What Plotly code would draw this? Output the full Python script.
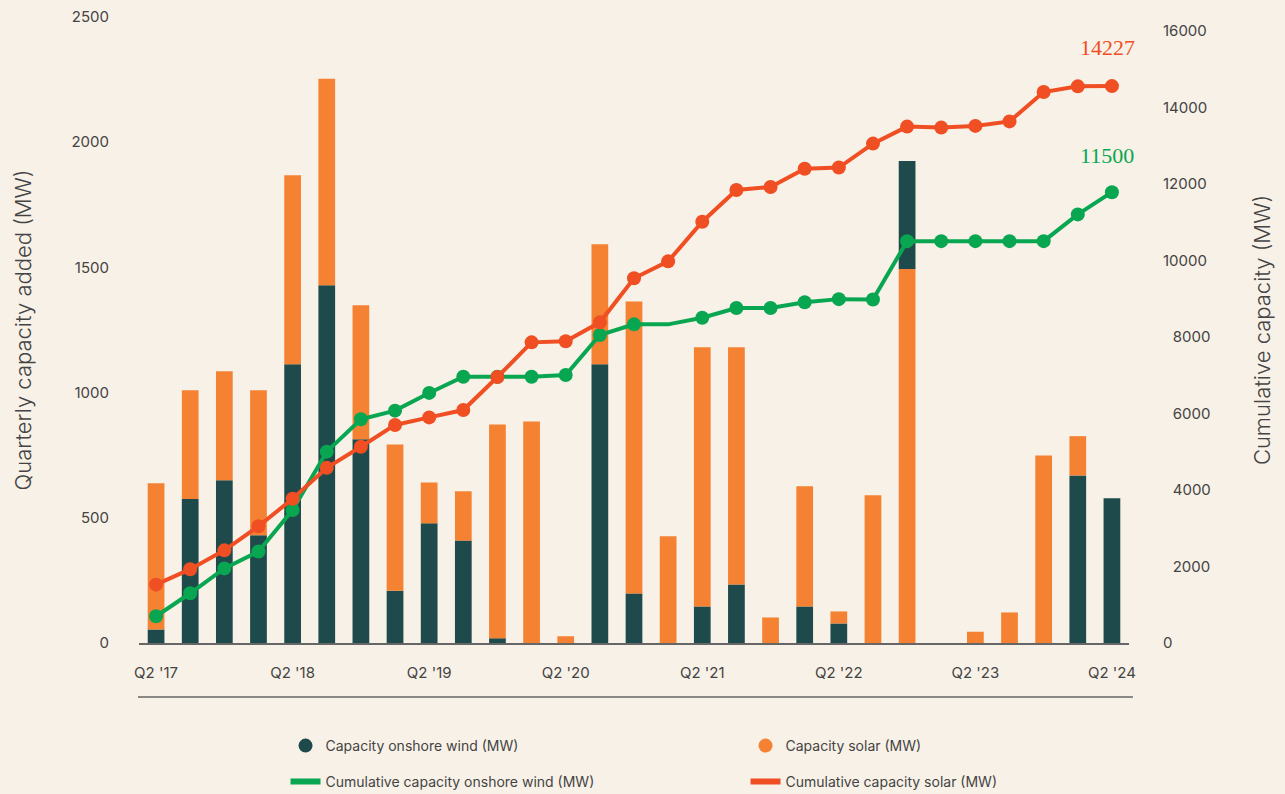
import plotly.graph_objects as go

# ---------------- data ----------------
quarters = [
    "Q2 '17", "Q3 '17", "Q4 '17", "Q1 '18", "Q2 '18", "Q3 '18", "Q4 '18", "Q1 '19",
    "Q2 '19", "Q3 '19", "Q4 '19", "Q1 '20", "Q2 '20", "Q3 '20", "Q4 '20", "Q1 '21",
    "Q2 '21", "Q3 '21", "Q4 '21", "Q1 '22", "Q2 '22", "Q3 '22", "Q4 '22", "Q1 '23",
    "Q2 '23", "Q3 '23", "Q4 '23", "Q1 '24", "Q2 '24",
]
wind_added = [54, 575, 650, 430, 1113, 1429, 814, 209, 478, 409, 19, 0, 0, 1113, 198, 0,
              146, 234, 0, 146, 78, 0, 431, 0, 0, 0, 0, 669, 578]
solar_added = [584, 434, 435, 579, 755, 824, 535, 584, 163, 197, 854, 885, 27, 479, 1166, 426,
               1035, 947, 102, 480, 48, 590, 1494, 0, 45, 122, 749, 157, 0]
wind_cumulative = [699, 1300, 1950, 2393, 3476, 5002, 5849, 6075, 6538, 6960, 6960, 6960, 7007,
                   8052, 8331, 8331, 8505, 8758, 8758, 8910, 8990, 8980, 10506, 10506, 10506,
                   10506, 10506, 11205, 11786]
solar_cumulative = [1526, 1930, 2422, 3052, 3771, 4579, 5130, 5701, 5898, 6090, 6954, 7860, 7890,
                    8383, 9534, 9978, 11015, 11843, 11922, 12400, 12430, 13056, 13500, 13475,
                    13519, 13637, 14405, 14553, 14560]
wind_stacked_on_solar = ["Q4 '22"]        # quarter where the wind block sits above the solar block
wind_cumulative_no_marker = ["Q1 '21"]    # quarter drawn without a dot on the wind line
label_solar_total = "14227"
label_wind_total = "11500"
tick_quarters = [q for q in quarters if q.startswith("Q2")]
left_ticks = [0, 500, 1000, 1500, 2000, 2500]
right_ticks = [0, 2000, 4000, 6000, 8000, 10000, 12000, 14000, 16000]
right_ticktext = [("\u2007" + str(v)) if 1000 <= v < 10000 else str(v) for v in right_ticks]

# ---------------- styles ----------------
BG = "#f8f1e7"
DARK = "#1e4a4b"
ORANGE = "#f58232"
RED = "#f04e23"
GREEN = "#09a651"
TXT = "#444444"
FONT = "Inter"
SERIF = "Liberation Serif"

wind_base = [s if q in wind_stacked_on_solar else 0 for q, s in zip(quarters, solar_added)]
solar_base = [0 if q in wind_stacked_on_solar else w for q, w in zip(quarters, wind_added)]
wind_marker_sizes = [0 if q in wind_cumulative_no_marker else 14 for q in quarters]

fig = go.Figure()
fig.add_trace(go.Bar(x=quarters, y=wind_added, base=wind_base, marker=dict(color=DARK, line=dict(width=0)),
                     name="Capacity onshore wind (MW)", showlegend=False))
fig.add_trace(go.Bar(x=quarters, y=solar_added, base=solar_base, marker=dict(color=ORANGE, line=dict(width=0)),
                     name="Capacity solar (MW)", showlegend=False))
fig.add_trace(go.Scatter(x=quarters, y=wind_cumulative, yaxis="y2", mode="lines+markers",
                         line=dict(color=GREEN, width=4),
                         marker=dict(color=GREEN, size=wind_marker_sizes, opacity=1, line=dict(width=0)),
                         name="Cumulative capacity onshore wind (MW)", showlegend=False))
fig.add_trace(go.Scatter(x=quarters, y=solar_cumulative, yaxis="y2", mode="lines+markers",
                         line=dict(color=RED, width=4),
                         marker=dict(color=RED, size=14, opacity=1, line=dict(width=0)),
                         name="Cumulative capacity solar (MW)", showlegend=False))

# legend entries
fig.add_trace(go.Scatter(x=[None], y=[None], mode="markers",
                         marker=dict(color=DARK, size=14, symbol="circle", line=dict(width=0)),
                         name="Capacity onshore wind (MW)", legend="legend"))
fig.add_trace(go.Scatter(x=[None], y=[None], mode="markers",
                         marker=dict(color=ORANGE, size=14, symbol="circle", line=dict(width=0)),
                         name="Capacity solar (MW)", legend="legend"))
fig.add_trace(go.Scatter(x=[None], y=[None], mode="lines", line=dict(color=GREEN, width=6),
                         name="Cumulative capacity onshore wind (MW)", legend="legend2"))
fig.add_trace(go.Scatter(x=[None], y=[None], mode="lines", line=dict(color=RED, width=6),
                         name="Cumulative capacity solar (MW)", legend="legend2"))

legend_common = dict(orientation="h", xanchor="left", yanchor="middle", yref="container",
                     x=0.148, entrywidth=415, itemwidth=30,
                     bgcolor="rgba(0,0,0,0)", font=dict(family=FONT, size=14, color=TXT))

fig.update_layout(
    width=1285, height=794,
    margin=dict(l=139, r=156, t=17, b=151, autoexpand=False),
    paper_bgcolor=BG, plot_bgcolor=BG,
    barmode="overlay", bargap=0.51,
    font=dict(family=FONT, color=TXT, size=15),
    showlegend=True,
    legend=dict(y=1 - 746 / 794, **legend_common),
    legend2=dict(y=1 - 782 / 794, **legend_common),
    xaxis=dict(type="category", range=[-0.5, len(quarters) - 0.5], tickmode="array",
               tickvals=tick_quarters, ticktext=tick_quarters, showgrid=False, zeroline=False,
               showline=True, linecolor="#666666", linewidth=1.5, ticks="outside", ticklen=15,
               tickcolor="rgba(0,0,0,0)", tickfont=dict(size=15, color=TXT)),
    yaxis=dict(range=[0, 2500], tickvals=left_ticks, ticktext=[str(v) for v in left_ticks], showgrid=False,
               zeroline=False, showline=False, ticks="outside", ticklen=26, tickcolor="rgba(0,0,0,0)",
               tickfont=dict(size=15, color=TXT),
               title=dict(text="Quarterly capacity added (MW)", font=dict(size=22, color=TXT, weight=300),
                          standoff=33)),
    yaxis2=dict(range=[0, 16366], tickvals=right_ticks, ticktext=right_ticktext, overlaying="y", side="right",
                showgrid=False, zeroline=False, showline=False, ticks="outside", ticklen=30,
                tickcolor="rgba(0,0,0,0)", tickfont=dict(size=15, color=TXT),
                title=dict(text="Cumulative capacity (MW)", font=dict(size=22, color=TXT, weight=300),
                           standoff=44)),
    shapes=[dict(type="line", xref="paper", yref="paper", x0=-0.001, x1=1.004, y0=-0.0863, y1=-0.0863,
                 line=dict(color="#666666", width=1.5))],
    annotations=[
        dict(x=quarters[-1], y=solar_cumulative[-1], xref="x", yref="y2", text=label_solar_total,
             showarrow=False, yshift=39, xshift=-4, font=dict(family=SERIF, size=22, color=RED)),
        dict(x=quarters[-1], y=wind_cumulative[-1], xref="x", yref="y2", text=label_wind_total,
             showarrow=False, yshift=37, xshift=-5, font=dict(family=SERIF, size=22, color=GREEN)),
    ],
)

fig.write_html("out.html", config={"displayModeBar": False},
               post_script="document.body.style.margin='0';")
